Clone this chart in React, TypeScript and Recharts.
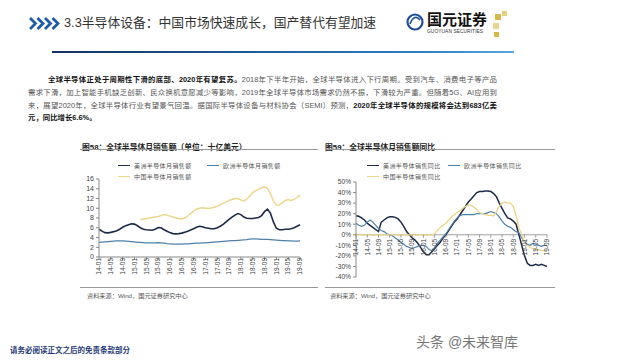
import React from 'react';
import { LineChart, Line, XAxis, YAxis, ReferenceLine, ReferenceDot } from 'recharts';

// ---------- data ----------
const tickIdx = [0, 4, 8, 12, 16, 20, 24, 28, 32, 36, 40, 44, 48, 52, 56, 60, 64, 68];
const tickLabels = ['14-01', '14-05', '14-09', '15-01', '15-05', '15-09', '16-01', '16-05', '16-09', '17-01', '17-05', '17-09', '18-01', '18-05', '18-09', '19-01', '19-05', '19-09'];

// monthly sales, 14-01 .. 19-09 (billion USD)
const americasSales = [
  5.7, 5.3, 5.0, 4.95, 5.05, 5.2, 5.4, 5.7, 6.1, 6.4, 6.6, 6.8,
  6.75, 6.4, 6.0, 5.7, 5.6, 5.55, 5.5, 5.7, 6.05, 6.0, 5.6, 5.3,
  5.0, 4.8, 4.75, 4.8, 4.9, 5.1, 5.3, 5.55, 5.8, 6.1, 6.3, 6.2,
  6.0, 5.9, 5.8, 5.8, 6.0, 6.3, 6.7, 7.2, 7.7, 8.2, 8.6, 8.9,
  8.7, 8.2, 7.95, 7.9, 7.9, 8.0, 8.1, 8.5, 9.3, 9.8, 9.0, 7.2,
  5.9, 5.6, 5.6, 5.7, 5.7, 5.8, 6.0, 6.3, 6.6,
];
const europeSales = [
  3.0, 3.05, 3.1, 3.15, 3.2, 3.25, 3.3, 3.3, 3.3, 3.25, 3.2, 3.15,
  3.1, 3.0, 3.0, 2.95, 2.9, 2.9, 2.9, 2.9, 2.95, 2.9, 2.85, 2.75,
  2.7, 2.65, 2.65, 2.65, 2.65, 2.7, 2.7, 2.75, 2.8, 2.85, 2.85, 2.9,
  2.9, 2.95, 3.0, 3.05, 3.1, 3.15, 3.2, 3.25, 3.3, 3.35, 3.35, 3.4,
  3.45, 3.5, 3.55, 3.65, 3.7, 3.7, 3.65, 3.6, 3.6, 3.6, 3.55, 3.5,
  3.45, 3.4, 3.35, 3.35, 3.3, 3.3, 3.25, 3.25, 3.3,
];
const chinaSales = [
  null, null, null, null, null, null, null, null, null, null, null, null,
  null, null, 7.7, 7.8, 7.9, 8.0, 8.1, 8.2, 8.3, 8.5, 8.7, 8.6,
  8.4, 8.2, 8.0, 7.9, 7.8, 8.0, 8.4, 8.9, 9.4, 9.8, 10.0, 10.1,
  10.0, 10.0, 10.05, 10.2, 10.4, 10.7, 11.0, 11.3, 11.6, 11.8, 12.0, 12.0,
  11.7, 11.5, 11.9, 12.5, 13.2, 13.6, 13.9, 14.2, 14.35, 14.1, 13.0, 11.5,
  10.6, 10.7, 11.1, 11.6, 11.8, 11.6, 11.8, 12.2, 12.7,
];

// year-on-year growth, %
const americasYoy = [
  18, 17.5, 16, 14, 11, 9, 7, 5, 3, 12, 14, 16,
  17, 17, 16.5, 15, 12, 8, 3, 0, -3, -5, -8, -12,
  -16, -19, -19, -16, -13, -10, -7, -3, 0, 4, 8, 12,
  15, 19, 23, 27, 31, 34, 37, 40, 41, 41, 41.5, 41.5,
  41, 39, 36, 30, 25, 20, 16, 15, 13, 10, 0, -10,
  -20, -27, -29, -29, -28, -29, -28, -29, -30,
];
const europeYoy = [
  11, 9, 8, 9, 12, 14, 12, 9, 6, 4, 3, 1,
  0, -1, -3, -5, -7, -9, -11, -12, -13, -12, -11, -10,
  -10, -11, -14, -15, -12, -8, -5, -2, 1, 5, 9, 13,
  16, 18, 19, 19, 19, 19, 19, 20, 20, 20, 20, 21,
  22, 21, 20, 17, 13, 10, 8, 7, 5, 3, 2, -3,
  -6, -9, -10, -8, -9, -10, -11, -10, -10,
];
const chinaYoy = [
  0, 0, 0, 0, 0, 0, 0, 0, 0, 0, 0, 0,
  0, 0, 0, 0, 0, 0, 0, 0, 0, 0, 0, 0,
  0, 0, 0, 0, 1, 4, 7, 9, 11, 14, 17, 19,
  21, 23, 25, 27, 28, 28, 26, 24, 21, 20, 19, 18.5,
  18.5, 18, 22, 27, 30, 31, 30, 30, 27, 18, 7, 0,
  -8, -10, -12, -13, -14, -14, -15, -15, -16,
];

const salesTicks = [0, 2, 4, 6, 8, 10, 12, 14, 16];
const yoyTicks = [-40, -30, -20, -10, 0, 10, 20, 30, 40, 50];

const salesData = americasSales.map((v, i) => ({ i, americas: v, europe: europeSales[i], china: chinaSales[i] }));
const yoyData = americasYoy.map((v, i) => ({ i, americas: v, europe: europeYoy[i], china: chinaYoy[i] }));

// ---------- style ----------
const NAVY = '#1d2b48';
const STEEL = '#4f80aa';
const GOLD = '#ecd68a';
const CJK = '"Liberation Sans", "Noto Sans CJK SC", sans-serif';

const labelOf = (v: number) => tickLabels[tickIdx.indexOf(v)];

const SalesTick = (props: any) => {
  const { x, y, payload } = props;
  return (
    <g transform={`translate(${x},${y - 4})`}>
      <text transform="rotate(-90)" x={0} y={0} dy="0.35em" textAnchor="end" fontSize={6.5} fill="#444" fontFamily={CJK}>
        {labelOf(payload.value)}
      </text>
    </g>
  );
};

const ZeroTick = (label: string) => (p: any) => {
  const { cx, cy } = p;
  return (
    <g>
      <line x1={cx} y1={cy} x2={cx} y2={cy + 3} stroke="#888" strokeWidth={0.8} />
      <text transform={`translate(${cx},${cy + 4}) rotate(-90)`} x={0} y={0} dy="0.35em" textAnchor="end" fontSize={6.5} fill="#444" fontFamily={CJK}>
        {label}
      </text>
    </g>
  );
};

const LegendItem = ({ left, top, color, text }: { left: number; top: number; color: string; text: string }) => (
  <div style={{ position: 'absolute', left, top, display: 'flex', alignItems: 'center', height: 8 }}>
    <div style={{ width: 12, height: 0, borderTop: `1.5px solid ${color}`, marginRight: 4 }} />
    <span style={{ fontSize: 6, color: '#555', fontFamily: CJK, letterSpacing: 0.4, whiteSpace: 'nowrap' }}>{text}</span>
  </div>
);

const lineStyle: React.CSSProperties = {
  position: 'absolute',
  width: 469,
  fontSize: 7.4,
  lineHeight: '10px',
  color: '#555',
  fontFamily: CJK,
  textAlign: 'justify',
  textAlignLast: 'justify' as any,
};
const B = ({ children }: { children: React.ReactNode }) => <b style={{ color: '#111' }}>{children}</b>;

export default function App() {
  return (
    <div style={{ position: 'fixed', left: 0, top: 0, width: 640, height: 360, background: '#fff', overflow: 'hidden', fontFamily: CJK }}>
      {/* header */}
      <svg style={{ position: 'absolute', left: 29, top: 17 }} width={32} height={13}>
        {[0, 7.5, 15, 22.5].map((o) => (
          <polyline key={o} points={`${o + 1},1 ${o + 6.5},6.5 ${o + 1},12`} fill="none" stroke="#1f5ca6" strokeWidth={2.8} />
        ))}
      </svg>
      <div style={{ position: 'absolute', left: 64, top: 14, fontSize: 12.8, color: '#333', whiteSpace: 'nowrap', lineHeight: '18px' }}>
        3.3半导体设备：中国市场快速成长，国产替代有望加速
      </div>
      <svg style={{ position: 'absolute', left: 405, top: 11 }} width={110} height={32}>
        <circle cx={10} cy={11} r={7.5} fill="#fff" stroke="#1e4f96" strokeWidth={2.2} />
        <path d="M5,13 C8,5 12,5 15,9" fill="none" stroke="#1e4f96" strokeWidth={1.6} />
        <rect x={90} y={3} width={6} height={6} fill="#d9b84a" />
        <rect x={97} y={0} width={5} height={5} fill="#e4cf7e" />
        <rect x={88} y={12} width={6} height={6} fill="#e8d690" />
        <rect x={89} y={21} width={5} height={5} fill="#d9b84a" />
      </svg>
      <div style={{ position: 'absolute', left: 427, top: 11, fontSize: 15, fontWeight: 700, color: '#111', whiteSpace: 'nowrap', lineHeight: '17px' }}>国元证券</div>
      <div style={{ position: 'absolute', left: 427, top: 29, fontSize: 4.8, color: '#333', whiteSpace: 'nowrap', letterSpacing: 0.1 }}>GUOYUAN SECURITIES</div>
      <div style={{ position: 'absolute', left: 52, top: 51, width: 462, height: 2, background: 'linear-gradient(90deg, #14305e, #2f7fc4 80%, #5aa7e0)' }} />

      {/* paragraph */}
      <div style={{ ...lineStyle, left: 48, top: 75, width: 449 }}>
        <B>全球半导体正处于周期性下滑的底部、2020年有望复苏。</B>2018年下半年开始，全球半导体进入下行周期。受到汽车、消费电子等产品
      </div>
      <div style={{ ...lineStyle, left: 28, top: 88 }}>
        需求下滑，加上智能手机缺乏创新、民众换机意愿减少等影响，2019年全球半导体市场需求仍然不振，下滑较为严重。但随着5G、AI应用到
      </div>
      <div style={{ ...lineStyle, left: 28, top: 101 }}>
        来，展望2020年，全球半导体行业有望景气回温。据国际半导体设备与材料协会（SEMI）预测，<B>2020年全球半导体的规模将会达到683亿美</B>
      </div>
      <div style={{ ...lineStyle, left: 28, top: 113, textAlign: 'left', textAlignLast: 'left' as any }}>
        <B>元，同比增长6.6%。</B>
      </div>

      {/* chart titles and rules */}
      <div style={{ position: 'absolute', left: 82, top: 141, fontSize: 7.8, fontWeight: 700, color: '#222', whiteSpace: 'nowrap' }}>图58：全球半导体月销售额（单位：十亿美元）</div>
      <div style={{ position: 'absolute', left: 325, top: 141, fontSize: 7.8, fontWeight: 700, color: '#222', whiteSpace: 'nowrap' }}>图59：全球半导体月销售额同比</div>
      <div style={{ position: 'absolute', left: 80, top: 149, width: 238, height: 1, background: '#999' }} />
      <div style={{ position: 'absolute', left: 325, top: 149, width: 230, height: 1, background: '#999' }} />
      <div style={{ position: 'absolute', left: 80, top: 287, width: 238, height: 1, background: '#999' }} />
      <div style={{ position: 'absolute', left: 325, top: 287, width: 230, height: 1, background: '#999' }} />
      <div style={{ position: 'absolute', left: 87, top: 291, fontSize: 6.2, color: '#555', whiteSpace: 'nowrap' }}>资料来源：Wind，国元证券研究中心</div>
      <div style={{ position: 'absolute', left: 330, top: 291, fontSize: 6.2, color: '#555', whiteSpace: 'nowrap' }}>资料来源：Wind，国元证券研究中心</div>

      {/* legends */}
      <LegendItem left={118} top={161} color={NAVY} text="美洲半导体月销售额" />
      <LegendItem left={207} top={161} color={STEEL} text="欧洲半导体月销售额" />
      <LegendItem left={118} top={172} color={GOLD} text="中国半导体月销售额" />
      <LegendItem left={367} top={161} color={NAVY} text="美洲半导体销售同比" />
      <LegendItem left={448} top={161} color={STEEL} text="欧洲半导体销售同比" />
      <LegendItem left={367} top={172} color={GOLD} text="中国半导体销售同比" />

      {/* left chart */}
      <div style={{ position: 'absolute', left: 69, top: 165 }}>
        <LineChart width={236} height={122} data={salesData} margin={{ top: 14, right: 5, bottom: 0, left: 0 }}>
          <XAxis dataKey="i" type="number" domain={[0, 68]} ticks={tickIdx} interval={0} height={30}
            tick={<SalesTick />} stroke="#888" tickSize={3} />
          <YAxis domain={[0, 16]} ticks={salesTicks} width={30} interval={0} stroke="#888" tickSize={3}
            tick={{ fontSize: 7, fill: '#444', fontFamily: CJK }} />
          <Line dataKey="americas" stroke={NAVY} strokeWidth={1.6} dot={false} isAnimationActive={false} />
          <Line dataKey="europe" stroke={STEEL} strokeWidth={1.2} dot={false} isAnimationActive={false} />
          <Line dataKey="china" stroke={GOLD} strokeWidth={1.4} dot={false} isAnimationActive={false} />
        </LineChart>
      </div>

      {/* right chart */}
      <div style={{ position: 'absolute', left: 320, top: 170 }}>
        <LineChart width={235} height={112} data={yoyData} margin={{ top: 12, right: 8, bottom: 5, left: 0 }}>
          <XAxis dataKey="i" type="number" domain={[0, 68]} hide />
          <YAxis domain={[-40, 50]} ticks={yoyTicks} width={36} interval={0} stroke="#888" tickSize={3}
            tickFormatter={(v: number) => `${v}%`} tick={{ fontSize: 6.6, fill: '#444', fontFamily: CJK }} />
          <ReferenceLine y={0} stroke="#888" strokeWidth={0.8} />
          {tickIdx.map((t, k) => (
            <ReferenceDot key={t} x={t} y={0} r={0} ifOverflow="visible" shape={ZeroTick(tickLabels[k])} />
          ))}
          <Line dataKey="americas" stroke={NAVY} strokeWidth={1.5} dot={false} isAnimationActive={false} />
          <Line dataKey="europe" stroke={STEEL} strokeWidth={1.2} dot={false} isAnimationActive={false} />
          <Line dataKey="china" stroke={GOLD} strokeWidth={1.3} dot={false} isAnimationActive={false} />
        </LineChart>
      </div>

      {/* footer */}
      <div style={{ position: 'absolute', left: 10, top: 344, fontSize: 7.5, fontWeight: 700, color: '#1f3a7a', whiteSpace: 'nowrap' }}>请务必阅读正文之后的免责条款部分</div>
      <div style={{ position: 'absolute', left: 416, top: 333, fontSize: 14, color: '#777', whiteSpace: 'nowrap', lineHeight: '18px' }}>头条 @未来智库</div>
    </div>
  );
}
